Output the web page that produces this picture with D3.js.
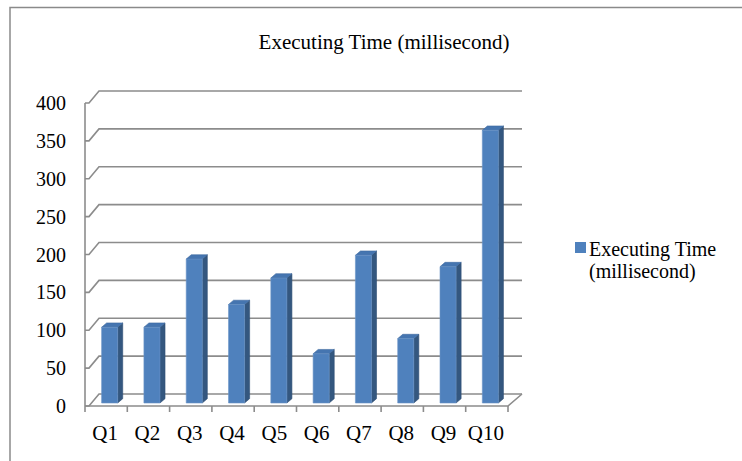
<!DOCTYPE html>
<html>
<head>
<meta charset="utf-8">
<script src="https://cdn.jsdelivr.net/npm/d3@7"></script>
<style>
  html, body { margin: 0; padding: 0; background: #fff; }
  svg { display: block; }
</style>
</head>
<body>
<script>
// Query execution times
const categories = ["Q1", "Q2", "Q3", "Q4", "Q5", "Q6", "Q7", "Q8", "Q9", "Q10"];
const values = [100, 100, 190, 130, 165, 65, 195, 85, 180, 360];
const yTicks = [0, 50, 100, 150, 200, 250, 300, 350, 400];
const seriesName = "Executing Time (millisecond)";
const legendLines = ["Executing Time", "(millisecond)"];

const W = 742, H = 461;
const FONT = "'Liberation Serif', 'Times New Roman', Times, 'DejaVu Serif', serif";
const svg = d3.select("body").append("svg").attr("width", W).attr("height", H)
  .attr("font-family", FONT);

// Oblique projection of the 3D plot box: z runs 0 (front) .. 1 (back wall)
const DX = 14, DY = -12;
const x = d3.scaleBand().domain(categories).range([85, 508]).paddingInner(0).paddingOuter(0);
const y = d3.scaleLinear().domain([0, 400]).range([406, 103]);
const P = (px, py, z) => [px + z * DX, py + z * DY];

const gridColor = "#8c8c8c";

// Outer chart frame
svg.append("path")
  .attr("d", `M10,${H + 5} L10,7.5 L${W + 5},7.5`)
  .attr("fill", "none").attr("stroke", "#8a8a8a").attr("stroke-width", 1.5);

// Title
svg.append("text")
  .attr("x", 384).attr("y", 49)
  .attr("text-anchor", "middle")
  .attr("font-size", 21)
  .text(seriesName);

const grid = svg.append("g").attr("fill", "none").attr("stroke", gridColor).attr("stroke-width", 1.6);
const x0 = x.range()[0], x1 = x.range()[1];

// Back-wall gridlines with their diagonal on the side wall
yTicks.forEach(t => {
  const a = P(x0, y(t), 0), b = P(x0, y(t), 1), c = P(x1, y(t), 1);
  grid.append("path").attr("d", `M${a[0]},${a[1]} L${a[0] + 4},${a[1]} L${b[0]},${b[1]} L${c[0]},${c[1]}`);
});

// Floor edges
{
  const f0 = P(x0, y(0), 0), f1 = P(x1, y(0), 0), f2 = P(x1, y(0), 1);
  grid.append("path").attr("d", `M${f0[0]},${f0[1]} L${f1[0]},${f1[1]} L${f2[0]},${f2[1]}`);
  // Vertical value axis at the front-left corner
  grid.append("path").attr("d", `M${x0},${y(0)} L${x0},${y(400)}`);
  // Category tick marks
  const bounds = categories.map(c => x(c)).concat([x1]);
  bounds.forEach(bx => {
    grid.append("path").attr("d", `M${bx},${y(0)} L${bx},${y(0) + 6}`);
  });
}

// Bars as prisms: front face, side face, top face
const zF = 0.25, zB = 0.61;
const bw = x.bandwidth() * 0.38;
const bars = svg.append("g");
categories.forEach((c, i) => {
  const cx = x(c) + x.bandwidth() / 2;
  const l = cx - bw / 2, r = cx + bw / 2;
  const top = y(values[i]), bot = y(0);
  const fl = P(l, top, zF), fr = P(r, top, zF), frb = P(r, bot, zF), flb = P(l, bot, zF);
  const bl = P(l, top, zB), br = P(r, top, zB), brb = P(r, bot, zB);
  const g = bars.append("g");
  g.append("path")
    .attr("d", `M${fr[0]},${fr[1]} L${br[0]},${br[1]} L${brb[0]},${brb[1]} L${frb[0]},${frb[1]} Z`)
    .attr("fill", "#34577f").attr("stroke", "#2f4f75").attr("stroke-width", 0.6);
  g.append("path")
    .attr("d", `M${fl[0]},${fl[1]} L${bl[0]},${bl[1]} L${br[0]},${br[1]} L${fr[0]},${fr[1]} Z`)
    .attr("fill", "#4575b0").attr("stroke", "#3e6aa0").attr("stroke-width", 0.6);
  g.append("path")
    .attr("d", `M${fl[0]},${fl[1]} L${fr[0]},${fr[1]} L${frb[0]},${frb[1]} L${flb[0]},${flb[1]} Z`)
    .attr("fill", "#4f81bd").attr("stroke", "#6b95c8").attr("stroke-width", 0.6);
});

// Value axis labels
svg.append("g").selectAll("text").data(yTicks).join("text")
  .attr("x", 66).attr("y", d => y(d) + 7)
  .attr("text-anchor", "end")
  .attr("font-size", 20)
  .text(d => d);

// Category labels
svg.append("g").selectAll("text").data(categories).join("text")
  .attr("x", d => x(d) + x.bandwidth() / 2 - 1)
  .attr("y", 440)
  .attr("text-anchor", "middle")
  .attr("font-size", 21)
  .text(d => d);

// Legend
const lg = svg.append("g");
lg.append("rect").attr("x", 575).attr("y", 242).attr("width", 11).attr("height", 11).attr("fill", "#4f81bd");
lg.selectAll("text").data(legendLines).join("text")
  .attr("x", 589).attr("y", (d, i) => 255.5 + i * 22.5)
  .attr("font-size", 20)
  .text(d => d);
</script>
</body>
</html>
